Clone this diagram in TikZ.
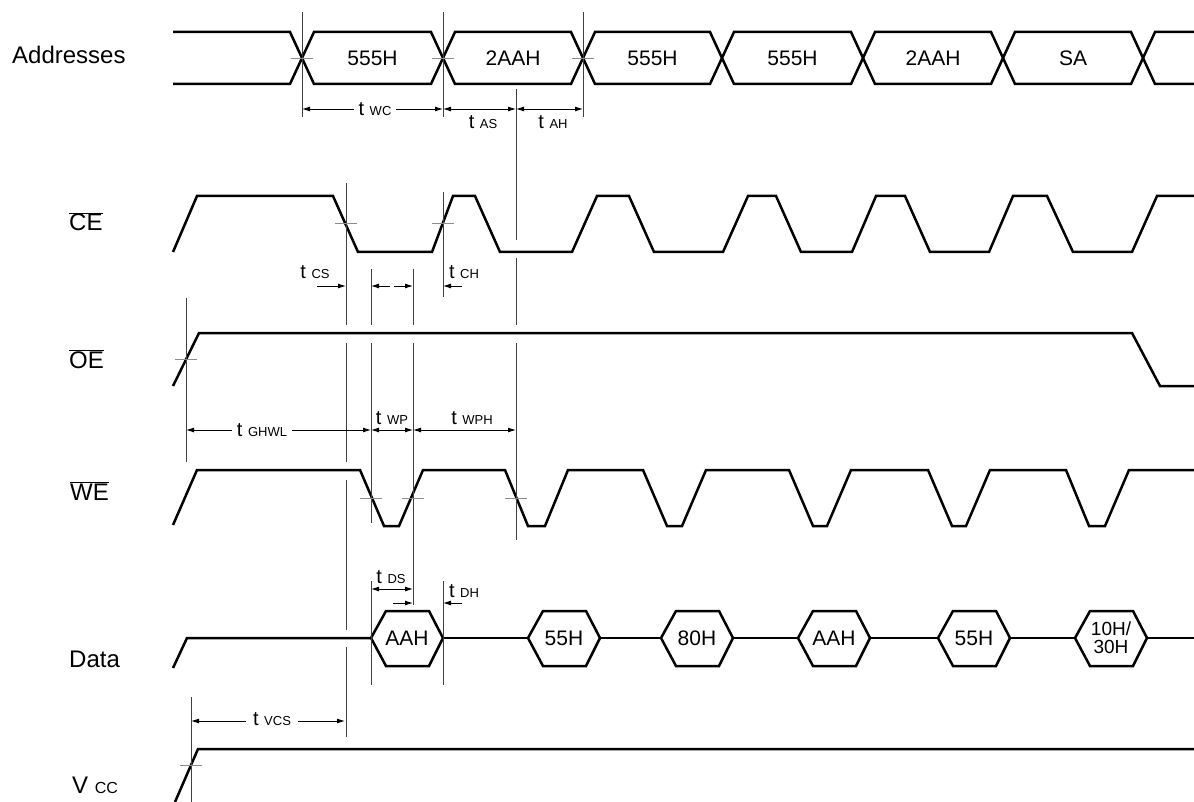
\documentclass[tikz,border=0pt]{standalone}
\usepackage{fontspec}
\setmainfont{Liberation Sans}
\usetikzlibrary{arrows.meta}

\newcommand{\tsub}[1]{t {\fontsize{13}{13}\selectfont #1}}

\begin{document}
\begin{tikzpicture}[x=1pt,y=-1pt,
	sig/.style={line width=2.5pt, line join=miter},
	guide/.style={line width=0.9pt, black!75},
	edgetick/.style={line width=0.9pt, black!45},
	dim/.style={line width=0.9pt, {Latex[length=8pt,width=5pt]}-{Latex[length=8pt,width=5pt]}},
	dimr/.style={line width=0.9pt, -{Latex[length=8pt,width=5pt]}},
	lbl/.style={font=\fontsize{24}{24}\selectfont, inner sep=0pt, anchor=base west},
	val/.style={font=\fontsize{21}{21}\selectfont, inner sep=0pt, align=center},
	tlbl/.style={font=\fontsize{20}{20}\selectfont, inner sep=1pt}]
					\useasboundingbox (0,0) rectangle (1194,802);
					\pgfmathsetmacro{\AdrT}{32}
					\pgfmathsetmacro{\AdrM}{58}
					\pgfmathsetmacro{\AdrB}{84}
					\pgfmathsetmacro{\CEH}{196}
					\pgfmathsetmacro{\CEL}{252}
					\pgfmathsetmacro{\OEH}{333}
					\pgfmathsetmacro{\OEL}{386}
					\pgfmathsetmacro{\WEH}{470}
					\pgfmathsetmacro{\WEL}{526}
					\pgfmathsetmacro{\DatT}{611}
					\pgfmathsetmacro{\DatM}{638}
					\pgfmathsetmacro{\DatB}{666}
					\pgfmathsetmacro{\VccH}{749}
					% SIGNAL NAMES
					\node[lbl] (addr) at (12,64) {Addresses};
					\node[lbl] (ce) at (69,231) {$\overline{\mbox{CE}}$};
					\node[lbl] (oe) at (69,368) {$\overline{\mbox{OE}}$};
					\node[lbl] (we) at (70,500) {$\overline{\mbox{WE}}$};
					\node[lbl] (data) at (69,667) {Data};
					\node[lbl] (vcc) at (72,793) {V {\fontsize{16}{16}\selectfont CC}};
					% ADDRESSES
					\draw[sig] (173,\AdrT) -- (290,\AdrT) -- (302,\AdrM) -- (290,\AdrB) -- (173,\AdrB);
					\foreach \xa/\xb/\lbl [count=\i] in {302/443/555H, 443/583/2AAH, 583/722/555H, 722/863/555H, 863/1003/2AAH, 1003/1143/SA}{
						\draw[sig] (\xa,\AdrM) -- (\xa+12,\AdrT) -- (\xb-12,\AdrT) -- (\xb,\AdrM) -- (\xb-12,\AdrB) -- (\xa+12,\AdrB) -- cycle;
						\node[val] (adr\i) at ({(\xa+\xb)/2},\AdrM) {\lbl};
					}
					\draw[sig] (1194,\AdrT) -- (1155,\AdrT) -- (1143,\AdrM) -- (1155,\AdrB) -- (1194,\AdrB);
					% CE
					\draw[sig] (173,\CEL) -- (197,\CEH) -- (333,\CEH) -- (358,\CEL) -- (432,\CEL) -- (453,\CEH) -- (475,\CEH) -- (500,\CEL)
						-- (572,\CEL) -- (597,\CEH) -- (629,\CEH) -- (654,\CEL) -- (723,\CEL) -- (748,\CEH) -- (776,\CEH) -- (801,\CEL)
						-- (852,\CEL) -- (876,\CEH) -- (905,\CEH) -- (930,\CEL) -- (989,\CEL) -- (1013,\CEH) -- (1047,\CEH) -- (1073,\CEL)
						-- (1132,\CEL) -- (1157,\CEH) -- (1194,\CEH);
					% OE
					\draw[sig] (173,\OEL) -- (199,\OEH) -- (1132,\OEH) -- (1160,\OEL) -- (1194,\OEL);
					% WE
					\draw[sig] (173,525) -- (197,\WEH) -- (360,\WEH) -- (384,\WEL) -- (399,\WEL) -- (423,\WEH) -- (505,\WEH) -- (528,\WEL)
						-- (545,\WEL) -- (568,\WEH) -- (643,\WEH) -- (667,\WEL) -- (682,\WEL) -- (706,\WEH) -- (789,\WEH) -- (813,\WEL)
						-- (827,\WEL) -- (851,\WEH) -- (928,\WEH) -- (952,\WEL) -- (966,\WEL) -- (990,\WEH) -- (1066,\WEH) -- (1089,\WEL)
						-- (1105,\WEL) -- (1129,\WEH) -- (1194,\WEH);
					% DATA
					\draw[sig] (173,668) -- (187,\DatM) -- (371,\DatM);
					\foreach \xa/\fs/\lbl [count=\i] in {371/21/AAH, 528/21/55H, 661/21/80H, 798/21/AAH, 938/21/55H, 1075/19/{10H/\\30H}}{
						\draw[sig] (\xa,\DatM) -- (\xa+15,\DatT) -- (\xa+58,\DatT) -- (\xa+72,\DatM) -- (\xa+58,\DatB) -- (\xa+15,\DatB) -- cycle;
						\node[val, font=\fontsize{\fs}{18}\selectfont] (dat\i) at (\xa+36,\DatM) {\lbl};
					}
					\foreach \xa/\xb in {443/528, 600/661, 733/798, 870/938, 1010/1075, 1147/1194}
						\draw[sig] (\xa,\DatM) -- (\xb,\DatM);
					% VCC
					\draw[sig] (175,802) -- (198,\VccH) -- (1194,\VccH);
					% GUIDES AND TICKS
					\foreach \x/\ya/\yb in {302/12/117, 443/12/117, 583/12/117, 516/89/240, 516/258/325, 516/343/540,
						346/183/325, 346/343/462, 346/480/630, 346/647/737, 371/269/325, 371/343/523, 371/581/685,
						413/269/325, 413/343/605, 443/192/297, 443/581/685, 186/298/462, 191/697/802}
						\draw[guide] (\x,\ya) -- (\x,\yb);
					\foreach \x/\y in {302/58, 443/58, 583/58, 346/223, 443/223, 186/359, 371/498, 413/498, 516/498, 191/765}
						\draw[edgetick] (\x-11,\y) -- (\x+11,\y);
					% TIMINGS
					\draw[dim] (302,109) -- (443,109);
					\node[tlbl, fill=white, inner xsep=5pt] (twc) at (375,109) {\tsub{WC}};
					\draw[dim] (443,109) -- (516,109);
					\node[tlbl] (tas) at (483,122) {\tsub{AS}};
					\draw[dim] (516,109) -- (583,109);
					\node[tlbl] (tah) at (553,122) {\tsub{AH}};
					\draw[dimr] (317,286) -- (346,286);
					\node[tlbl] (tcs) at (315,272) {\tsub{CS}};
					\draw[dimr] (390,286) -- (371,286);
					\draw[dimr] (394,286) -- (413,286);
					\draw[dimr] (462,286) -- (443,286);
					\node[tlbl] (tch) at (464,272) {\tsub{CH}};
					\draw[dim] (186,430) -- (371,430);
					\node[tlbl, fill=white, inner xsep=5pt] (tghwl) at (262,430) {\tsub{GHWL}};
					\draw[dim] (371,430) -- (413,430);
					\node[tlbl] (twp) at (392,418) {\tsub{WP}};
					\draw[dim] (413,430) -- (516,430);
					\node[tlbl] (twph) at (472,418) {\tsub{WPH}};
					\draw[dim] (371,589) -- (413,589);
					\node[tlbl] (tds) at (391,577) {\tsub{DS}};
					\draw[dimr] (393,603) -- (413,603);
					\draw[dimr] (462,603) -- (443,603);
					\node[tlbl] (tdh) at (464,591) {\tsub{DH}};
					\draw[dim] (191,721) -- (345,721);
					\node[tlbl, fill=white, inner xsep=7pt] (tvcs) at (272,719) {\tsub{VCS}};
				\end{tikzpicture}
\end{document}
